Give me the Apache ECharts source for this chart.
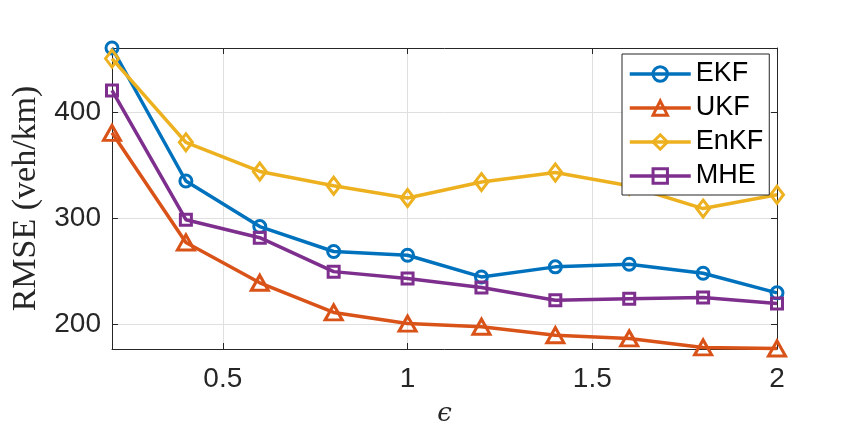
<!DOCTYPE html>
<html>
<head>
<meta charset="utf-8">
<script src="https://cdn.jsdelivr.net/npm/echarts@6/dist/echarts.min.js"></script>
<style>
html, body { margin: 0; padding: 0; background: #fff; }
#chart { width: 859px; height: 438px; }
</style>
</head>
<body>
<div id="chart"></div>
<script>
// epsilon values on the x axis
var epsilon = [0.2, 0.4, 0.6, 0.8, 1.0, 1.2, 1.4, 1.6, 1.8, 2.0];
// RMSE (veh/km) per filter
var ekf  = [461, 335.5, 292.5, 269, 265.5, 245, 254.5, 257, 248.5, 230];
var ukf  = [381, 277.5, 239.5, 211.5, 201, 198, 190, 187, 178.5, 177.5];
var enkf = [451, 372, 344.5, 331, 319.5, 334.5, 343.5, 331, 309.5, 322.5];
var mhe  = [421, 299, 282, 250, 243.5, 235, 223, 224.5, 225.5, 220];
var seriesNames = ['EKF', 'UKF', 'EnKF', 'MHE'];

var xMin = 0.2, xMax = 2;
var yMin = 177, yMax = 461;

var axisColor = '#262626';
var gridColor = '#dfdfdf';
var colors = ['#0072BD', '#D95319', '#EDB120', '#7E2F8E'];
var symbols = ['circle', 'triangle', 'diamond', 'rect'];
var symbolSizes = [12, [17, 15], [13, 17], 11];

var chart = echarts.init(document.getElementById('chart'));

function makeSeries(idx, values) {
	return {
		name: seriesNames[idx],
		type: 'line',
		xAxisIndex: 0,
		yAxisIndex: 0,
		data: epsilon.map(function (x, i) { return [x, values[i]]; }),
		symbol: symbols[idx],
		symbolSize: symbolSizes[idx],
		showAllSymbol: true,
		clip: false,
		lineStyle: { width: 3.5, color: colors[idx] },
		itemStyle: { color: 'rgba(255,255,255,0)', borderColor: colors[idx], borderWidth: 3 },
		emphasis: { disabled: true }
	};
}

function xAx(pos, main) {
	return {
		type: 'value', position: pos, min: xMin, max: xMax, splitNumber: 4,
		axisLine: { show: true, onZero: false, lineStyle: { color: axisColor, width: 1 } },
		axisTick: { show: true, inside: true, length: 6, lineStyle: { color: axisColor } },
		axisLabel: {
			show: main, showMinLabel: false, fontSize: 28, color: axisColor,
			fontFamily: 'Liberation Sans', margin: 16
		},
		splitLine: { show: main, lineStyle: { color: gridColor, width: 1 } },
		name: main ? 'ϵ' : '',
		nameLocation: 'middle',
		nameGap: 52,
		nameTextStyle: { fontFamily: 'DejaVu Serif', fontStyle: 'italic', fontSize: 26, color: axisColor }
	};
}

function yAx(pos, main) {
	return {
		type: 'value', position: pos, min: yMin, max: yMax, splitNumber: 3,
		axisLine: { show: true, onZero: false, lineStyle: { color: axisColor, width: 1 } },
		axisTick: { show: true, inside: true, length: 6, lineStyle: { color: axisColor } },
		axisLabel: {
			show: main, showMinLabel: false, showMaxLabel: false, fontSize: 28,
			color: axisColor, fontFamily: 'Liberation Sans', margin: 11
		},
		splitLine: { show: main, lineStyle: { color: gridColor, width: 1 } },
		name: main ? 'RMSE (veh/km)' : '',
		nameLocation: 'middle',
		nameGap: 68,
		nameTextStyle: { fontFamily: 'Liberation Serif', fontSize: 34, color: axisColor }
	};
}

var option = {
	animation: false,
	backgroundColor: '#fff',
	grid: { left: 112, top: 48, width: 665, height: 301 },
	legend: {
		orient: 'vertical',
		left: 622, top: 54,
		padding: [3, 6, 2, 6],
		itemGap: 0,
		itemWidth: 61,
		itemHeight: 18,
		backgroundColor: '#fff',
		borderColor: axisColor,
		borderWidth: 1,
		lineStyle: { width: 'inherit' },
		itemStyle: { borderWidth: 'inherit' },
		textStyle: { fontSize: 27, lineHeight: 34, color: '#000', fontFamily: 'Liberation Sans' },
		data: seriesNames
	},
	xAxis: [xAx('bottom', true), xAx('top', false)],
	yAxis: [yAx('left', true), yAx('right', false)],
	series: [
		makeSeries(0, ekf),
		makeSeries(1, ukf),
		makeSeries(2, enkf),
		makeSeries(3, mhe)
	]
};

chart.setOption(option);
</script>
</body>
</html>
